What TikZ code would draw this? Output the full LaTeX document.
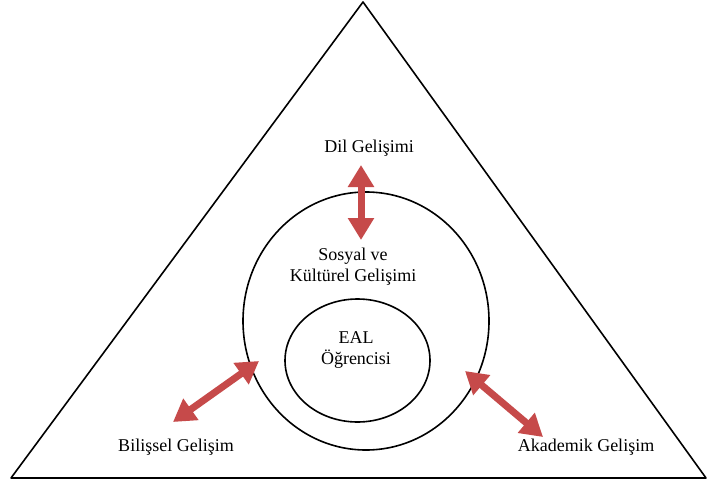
\documentclass[tikz,border=0pt]{standalone}
\usepackage{fontspec}
\setmainfont{Liberation Serif}
\usetikzlibrary{arrows.meta}
\usetikzlibrary{shapes.geometric}
\usetikzlibrary{positioning}
\definecolor{arrowred}{RGB}{198,74,74}

\begin{document}
\begin{tikzpicture}[
x=1pt, y=-1pt,
every node/.style={font=\fontsize{18}{21}\selectfont, align=center, inner sep=0},
every path/.style={line width=1.6pt},
ring/.style={draw, ellipse, inner sep=0},
twoway/.style={arrowred, line width=7pt, {Triangle[width=25pt,length=22pt]}-{Triangle[width=25pt,length=22pt]}}
]
\useasboundingbox (0,0) rectangle (708,484);
\coordinate (apex) at (363,2);
\coordinate (lc) at (11,478);
\coordinate (rc) at (706,478);
\draw[line join=round] (apex) -- (lc) -- (rc) -- cycle;
\node[ring, minimum width=246pt, minimum height=258pt] (outer) at (366,321) {};
\node[ring, minimum width=145pt, minimum height=123pt] (inner) at (357.5,360.5) {};
\node (dil) at (369,148) {Dil Gelişimi};
\node (sosyal) at (353,267) {Sosyal ve\\Kültürel Gelişimi};
\node (eal) at (356,350) {EAL\\Öğrencisi};
\node (bilis) at (176,447) {Bilişsel Gelişim};
\node (akad) at (586,447) {Akademik Gelişim};
% arrow ends
\coordinate (d1) at (361,165);
\coordinate (d2) at (361,240);
\coordinate (b1) at (173,422);
\coordinate (b2) at (259,361);
\coordinate (a1) at (465,371);
\coordinate (a2) at (543,437);
\draw[twoway] (d1) -- (d2);
\draw[twoway] (b1) -- (b2);
\draw[twoway] (a1) -- (a2);
\end{tikzpicture}
\end{document}
